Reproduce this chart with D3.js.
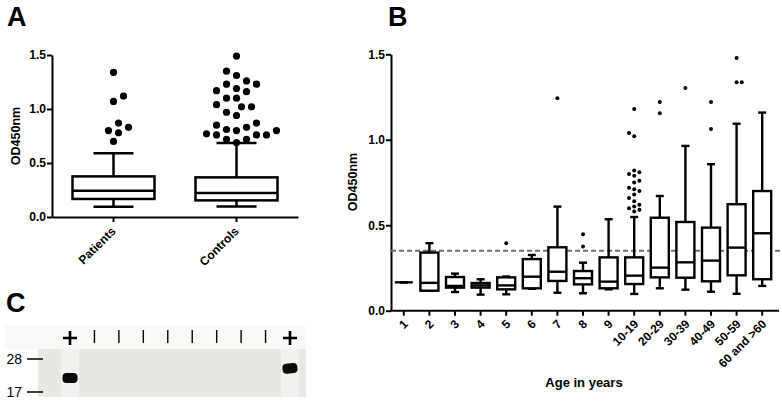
<!DOCTYPE html>
<html>
<head>
<meta charset="utf-8">
<script src="https://cdn.jsdelivr.net/npm/d3@7"></script>
<style>
body { margin: 0; background: #fff; }
text { font-family: "Liberation Sans", Arial, sans-serif; }
</style>
</head>
<body>
<script>
// panel A: patients vs controls
var groupsA = ["Patients", "Controls"];
var minA = [0.095, 0.098];
var q1A = [0.167, 0.154];
var medA = [0.243, 0.222];
var q3A = [0.376, 0.367];
var maxA = [0.59, 0.685];
var outPatients = [1.34, 1.12, 1.07, 0.87, 0.83, 0.80, 0.78, 0.70];
var outControls = [1.49, 1.35, 1.31, 1.26, 1.23, 1.23, 1.19, 1.17, 1.16, 1.10, 1.10, 1.04, 1.02, 1.02,
	0.97, 0.94, 0.87, 0.85, 0.83, 0.81, 0.80, 0.80, 0.77, 0.76, 0.76, 0.76, 0.72, 0.72, 0.69];
var ticksOD = [0, 0.5, 1.0, 1.5];

// panel B: by age
var ageGroups = ["1", "2", "3", "4", "5", "6", "7", "8", "9", "10-19", "20-29", "30-39", "40-49", "50-59", "60 and >60"];
var minB = [0.166, 0.117, 0.109, 0.094, 0.096, 0.128, 0.105, 0.102, 0.125, 0.098, 0.131, 0.123, 0.111, 0.099, 0.145];
var q1B = [0.166, 0.117, 0.135, 0.135, 0.125, 0.131, 0.174, 0.154, 0.131, 0.156, 0.195, 0.193, 0.172, 0.207, 0.184];
var medB = [0.166, 0.163, 0.145, 0.148, 0.148, 0.199, 0.228, 0.19, 0.17, 0.205, 0.252, 0.283, 0.293, 0.369, 0.453];
var q3B = [0.166, 0.34, 0.197, 0.162, 0.195, 0.302, 0.371, 0.232, 0.312, 0.312, 0.544, 0.519, 0.486, 0.623, 0.70];
var maxB = [0.166, 0.395, 0.217, 0.184, 0.2, 0.326, 0.609, 0.281, 0.535, 0.548, 0.671, 0.964, 0.857, 1.094, 1.159];
var outB = [[], [], [], [], [0.394], [], [1.243], [0.447, 0.375], [],
	[1.18, 1.04, 1.02, 0.82, 0.81, 0.80, 0.79, 0.76, 0.75, 0.72, 0.71, 0.70, 0.68, 0.66, 0.64, 0.62, 0.61, 0.60, 0.59, 0.58],
	[1.221, 1.155], [1.303], [1.221, 1.063], [1.479, 1.336, 1.336], []];
var cutoff = 0.35;

// panel C: blot
var lanes = ["+", "|", "|", "|", "|", "|", "|", "|", "|", "+"];
var bandKDa = [21, null, null, null, null, null, null, null, null, 24.3];
var markers = [28, 17];

var svg = d3.select("body").append("svg")
	.attr("width", 782)
	.attr("height", 401)
	.style("display", "block")

function letter(t, x, y){
	svg.append("text").attr("x", x).attr("y", y).text(t)
		.attr("font-size", 27).attr("font-weight", "bold")
}

// simple beeswarm, lowest value first, alternating sides
function swarm(values, y, cx, minDist, step){
	var placed = []
	var side = 1
	values.slice().sort(function(a, b){ return a - b }).forEach(function(v){
		var py = y(v)
		for(var k = 0; k < 60; k++){
			var off = (k % 2 === 1 ? side : -side) * Math.ceil(k / 2) * step
			var ok = placed.every(function(p){ return Math.hypot(p.x - (cx + off), p.y - py) >= minDist })
			if(ok){
				placed.push({x: cx + off, y: py})
				if(off !== 0) side = -side
				break;
			}
		}
	})
	return placed
}

function drawBoxes(g, x, y, cats, mins, q1s, meds, q3s, maxs, boxW, capW, sw){
	cats.forEach(function(c, i){
		var cx = x(c) + x.bandwidth() / 2
		var b = g.append("g").attr("stroke", "black").attr("stroke-width", sw).attr("fill", "white")
		b.append("line").attr("x1", cx).attr("x2", cx).attr("y1", y(maxs[i])).attr("y2", y(mins[i]))
		b.append("line").attr("x1", cx - capW / 2).attr("x2", cx + capW / 2).attr("y1", y(maxs[i])).attr("y2", y(maxs[i]))
		b.append("line").attr("x1", cx - capW / 2).attr("x2", cx + capW / 2).attr("y1", y(mins[i])).attr("y2", y(mins[i]))
		b.append("rect").attr("x", cx - boxW / 2).attr("width", boxW)
			.attr("y", y(q3s[i])).attr("height", y(q1s[i]) - y(q3s[i]))
		b.append("line").attr("x1", cx - boxW / 2).attr("x2", cx + boxW / 2).attr("y1", y(meds[i])).attr("y2", y(meds[i]))
	})
}

function styleAxis(ax, sw){
	ax.selectAll("path").attr("stroke-width", sw)
	ax.selectAll("line").attr("stroke-width", sw)
	ax.selectAll("text").attr("font-size", 12).attr("font-weight", "bold").attr("fill", "black")
		.style("font-family", "'Liberation Sans', Arial, sans-serif")
}

// ---------- A ----------
var yA = d3.scaleLinear().domain([0, 1.5]).range([217, 55])
var xA = d3.scaleBand().domain(groupsA).range([52, 298])

letter("A", 7, 26)

var gA = svg.append("g")
var axA = gA.append("g").attr("transform", "translate(52,0)")
	.call(d3.axisLeft(yA).tickValues(ticksOD).tickFormat(d3.format(".1f")).tickSize(5).tickSizeOuter(0).tickPadding(1))
styleAxis(axA, 2)

var axAx = gA.append("g").attr("transform", "translate(0,217)")
	.call(d3.axisBottom(xA).tickSize(5).tickSizeOuter(0))
styleAxis(axAx, 2)
axAx.selectAll("text")
	.attr("text-anchor", "end").attr("x", 0).attr("y", 0).attr("dy", "0.35em")
	.attr("transform", "translate(0,12) rotate(-45)")

gA.append("text").attr("transform", "translate(20,136) rotate(-90)")
	.attr("text-anchor", "middle").attr("font-size", 12.5).attr("font-weight", "bold").text("OD450nm")

drawBoxes(gA, xA, yA, groupsA, minA, q1A, medA, q3A, maxA, 82, 40, 2.5)

;[outPatients, outControls].forEach(function(vals, i){
	var cx = xA(groupsA[i]) + xA.bandwidth() / 2
	gA.selectAll(null).data(swarm(vals, yA, cx, 9.5, 5)).enter()
		.append("circle")
		.attr("cx", function(d){ return d.x })
		.attr("cy", function(d){ return d.y })
		.attr("r", 3.6)
		.attr("fill", "black")
})

// ---------- B ----------
var yB = d3.scaleLinear().domain([0, 1.5]).range([310.7, 54.3])
var xB = d3.scaleBand().domain(ageGroups).range([391, 775])

letter("B", 388, 26)

var gB = svg.append("g")
var axB = gB.append("g").attr("transform", "translate(391,0)")
	.call(d3.axisLeft(yB).tickValues(ticksOD).tickFormat(d3.format(".1f")).tickSize(5).tickSizeOuter(0).tickPadding(1))
styleAxis(axB, 2)

gB.append("line").attr("x1", 391).attr("x2", 779).attr("y1", yB(0)).attr("y2", yB(0))
	.attr("stroke", "black").attr("stroke-width", 2)
var axBx = gB.append("g").attr("transform", "translate(0," + yB(0) + ")")
	.call(d3.axisBottom(xB).tickSize(5).tickSizeOuter(0))
styleAxis(axBx, 2)
axBx.select(".domain").remove()
axBx.selectAll("text").attr("font-size", 12)
	.attr("text-anchor", "end").attr("x", 0).attr("y", 0).attr("dy", "0.35em")
	.attr("transform", "translate(2,11) rotate(-45)")

gB.append("text").attr("transform", "translate(357,182) rotate(-90)")
	.attr("text-anchor", "middle").attr("font-size", 12.5).attr("font-weight", "bold").text("OD450nm")
gB.append("text").attr("x", 584).attr("y", 387)
	.attr("text-anchor", "middle").attr("font-size", 13).attr("font-weight", "bold").text("Age in years")

gB.append("line").attr("x1", 391).attr("x2", 781).attr("y1", yB(cutoff)).attr("y2", yB(cutoff))
	.attr("stroke", "#6e6e6e").attr("stroke-width", 2).attr("stroke-dasharray", "5,3")

drawBoxes(gB, xB, yB, ageGroups, minB, q1B, medB, q3B, maxB, 18, 8, 2.4)

outB.forEach(function(vals, i){
	var cx = xB(ageGroups[i]) + xB.bandwidth() / 2
	gB.selectAll(null).data(swarm(vals, yB, cx, 5, 2.6)).enter()
		.append("circle")
		.attr("cx", function(d){ return d.x })
		.attr("cy", function(d){ return d.y })
		.attr("r", 2)
		.attr("fill", "black")
})

// ---------- C ----------
letter("C", 6, 312)

var gC = svg.append("g")
var xC = d3.scalePoint().domain(d3.range(lanes.length)).range([70, 290])
var yC = d3.scaleLog().domain([28, 17]).range([359, 392])

gC.append("rect").attr("x", 5).attr("y", 325).attr("width", 301).attr("height", 24).attr("fill", "#f9f9f7")
gC.append("rect").attr("x", 38).attr("y", 349).attr("width", 268).attr("height", 48).attr("fill", "#e7e8e4")

lanes.forEach(function(l, i){
	var cx = xC(i)
	if(l === "+"){
		gC.append("path").attr("d", "M" + (cx - 7) + ",338H" + (cx + 7) + "M" + cx + ",331V345")
			.attr("stroke", "black").attr("stroke-width", 2.6)
	} else {
		gC.append("line").attr("x1", cx).attr("x2", cx).attr("y1", 330).attr("y2", 343)
			.attr("stroke", "black").attr("stroke-width", 1.4)
	}
	if(bandKDa[i] != null){
		gC.append("rect").attr("x", cx - 9).attr("y", 349).attr("width", 18).attr("height", 48).attr("fill", "#f1f1ef")
		gC.append("rect").attr("x", cx - 7.5).attr("y", yC(bandKDa[i]) - 5).attr("width", 15).attr("height", 10)
			.attr("rx", 4).attr("fill", "#0a0a0a")
			.attr("transform", "rotate(" + (i === 0 ? 0 : -7) + "," + cx + "," + yC(bandKDa[i]) + ")")
	}
})

markers.forEach(function(m){
	gC.append("line").attr("x1", 27).attr("x2", 43).attr("y1", yC(m)).attr("y2", yC(m))
		.attr("stroke", "black").attr("stroke-width", 1.5)
	gC.append("text").attr("x", 22).attr("y", yC(m)).attr("dy", "0.35em").attr("text-anchor", "end")
		.attr("font-size", 14).style("font-family", "'Liberation Sans Narrow', 'Arial Narrow', sans-serif")
		.text(m)
})
</script>
</body>
</html>
